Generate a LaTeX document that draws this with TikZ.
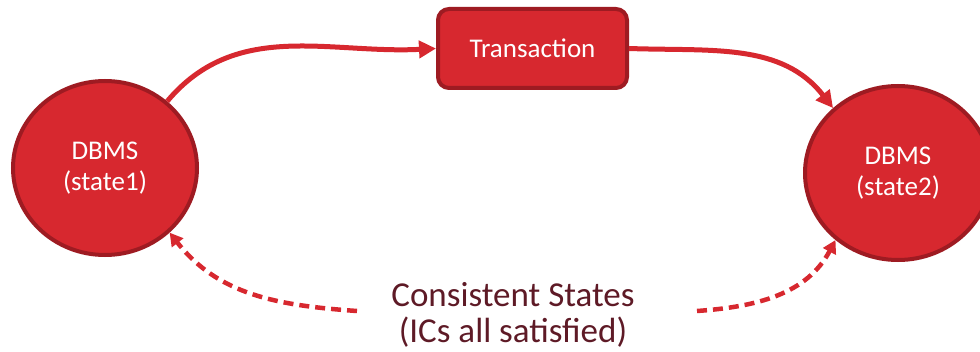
\documentclass[tikz,border=0pt]{standalone}
\usepackage{fontspec}
\setmainfont{Carlito}
\usetikzlibrary{shapes.geometric,arrows.meta}
\definecolor{redfill}{HTML}{D7282F}
\definecolor{redline}{HTML}{9E1B22}
\definecolor{labelmaroon}{HTML}{5E1A26}
\tikzset{
  statenode/.style={ellipse, draw=redline, fill=redfill, line width=4pt, inner sep=0pt,
    text=white, align=center, font=\fontsize{27}{31}\selectfont},
  txnode/.style={rectangle, rounded corners=11pt, draw=redline, fill=redfill, line width=4pt,
    minimum width=189pt, minimum height=79pt, inner sep=0pt, text=white,
    font=\fontsize{27}{31}\selectfont},
  flowarrow/.style={draw=redfill, line width=5pt, -{Triangle[length=17pt,width=17pt]}},
  dasharrow/.style={draw=redfill, line width=4.5pt, dash pattern=on 10pt off 6pt,
    -{Triangle[length=13pt,width=14pt]}},
  labeltext/.style={text=labelmaroon, align=center, inner sep=0pt,
    font=\fontsize{35}{36}\selectfont}
}
\begin{document}
\begin{tikzpicture}[x=1pt,y=1pt]
\useasboundingbox (0,0) rectangle (980,351);
\node[statenode, minimum width=184pt, minimum height=174pt] (s1) at (105,183) {DBMS\\(state1)};
\node[statenode, minimum width=186pt, minimum height=174pt] (s2) at (898,178) {DBMS\\(state2)};
\node[txnode] (tx) at (532.5,302.5) {Transaction};
\node[labeltext] (lbl) at (513,36) {Consistent States\\(ICs all satisfied)};
\coordinate (d1s) at (357,40);
\coordinate (d2s) at (697,40);
\draw[flowarrow] (s1.47) to[out=50,in=183] (tx.west);
\draw[flowarrow] (tx.east) to[out=-2,in=128] (s2.135);
\draw[dasharrow] (d1s) to[out=176,in=-52] (s1.-45);
\draw[dasharrow] (d2s) to[out=4,in=-118] (s2.-133);
\end{tikzpicture}
\end{document}
